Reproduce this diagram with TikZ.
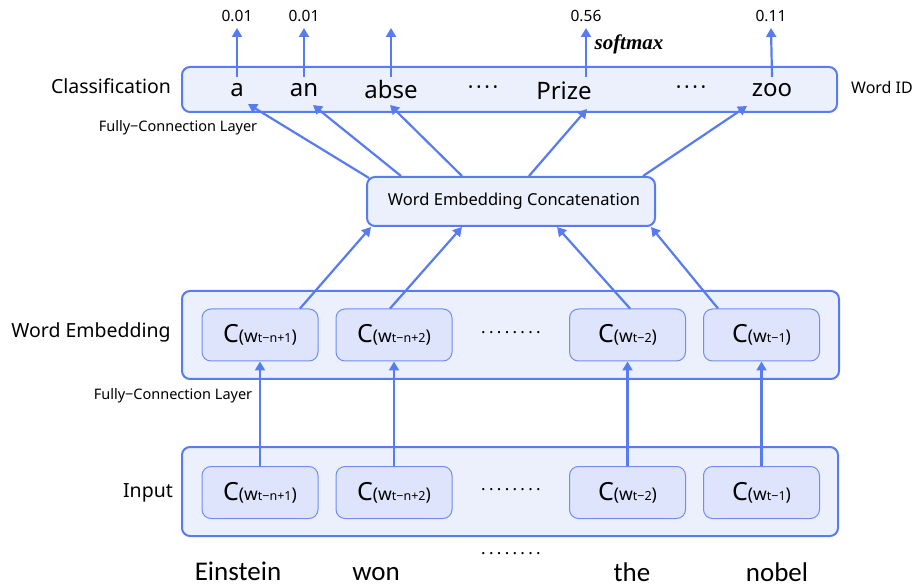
\documentclass[tikz,border=0pt]{standalone}
\usepackage{fontspec}
\setmainfont{Noto Sans}
\newfontfamily\wordfont{Carlito}
\newfontfamily\serifbi{Liberation Serif}
\usetikzlibrary{arrows.meta}

\definecolor{lineblue}{RGB}{88,124,240}
\definecolor{outerfill}{RGB}{236,240,252}
\definecolor{innerfill}{RGB}{221,228,251}
\definecolor{innerline}{RGB}{112,142,240}

\newcommand{\fs}[1]{\fontsize{#1}{#1}\selectfont}
% embedding label C(w_...)
\newcommand{\cw}[1]{{\fs{25}C}{\fs{17.5}(w}{\fs{12.5}#1}{\fs{17.5})}}
\newcommand{\dk}{\kern3.3pt}
\newcommand{\mk}{\kern2.6pt}

\tikzset{
  layer/.style={draw=lineblue, line width=2pt, fill=outerfill, rounded corners=8pt, inner sep=0pt},
  cell/.style={draw=innerline, line width=1pt, fill=innerfill, rounded corners=9pt,
    minimum width=116pt, minimum height=52pt, inner sep=0pt},
  arr/.style={draw=lineblue, line width=2.2pt, -{Triangle[length=9pt,width=10pt]}},
  word/.style={inner sep=0pt, font=\fs{24}},
  dotrow/.style={inner sep=0pt, font=\bfseries\fs{17}},
  prob/.style={inner sep=0pt, font=\fs{15.5}},
  side/.style={inner sep=0pt, font=\fs{19.5}},
  small/.style={inner sep=0pt, font=\fs{14.5}},
  token/.style={inner sep=0pt, anchor=base, font=\wordfont\fs{27}}
}

\begin{document}
\begin{tikzpicture}[x=1pt,y=-1pt]
\useasboundingbox (0,0) rectangle (914,588);

% layers
\node[layer, minimum width=655pt, minimum height=45pt] (cls) at (509.5,89.5) {};
\node[layer, minimum width=288pt, minimum height=49pt] (cat) at (511,201.5) {\fs{16.5}\hspace{6pt}Word Embedding Concatenation};
\node[layer, minimum width=657pt, minimum height=88pt] (emb) at (510.5,335) {};
\node[layer, minimum width=656pt, minimum height=89pt] (inp) at (510,491.5) {};

% side labels
\node[side] (lcls) at (111,86) {Classification};
\node[side] (lemb) at (91,332) {Word Embedding};
\node[side] (linp) at (148,493) {Input};
\node[small] (fc1) at (178,128) {Fully−Connection Layer};
\node[small] (fc2) at (173,396) {Fully−Connection Layer};
\node[inner sep=0pt, font=\fs{16}] (wid) at (882,88) {Word ID};

% vocabulary
\node[word] (wa) at (237,90) {a};
\node[word] (wn) at (304,90) {an};
\node[word] (ws) at (391,90) {abse};
\node[dotrow, font=\bfseries\fs{21}] (wd1) at (483,90) {·\mk·\mk·\mk·};
\node[word] (wp) at (564,91) {Prize};
\node[dotrow, font=\bfseries\fs{21}] (wd2) at (691,90) {·\mk·\mk·\mk·};
\node[word] (wz) at (772,90) {zoo};

% probabilities
\node[prob] (pa) at (237,16) {0.01};
\node[prob] (pn) at (304,16) {0.01};
\coordinate (ps) at (391,16);
\node[prob] (pp) at (586,16) {0.56};
\node[prob] (pz) at (771,16) {0.11};
\node[inner sep=0pt, font=\serifbi\bfseries\itshape\fs{21}] (smx) at (629,44) {softmax};

\draw[arr] ([yshift=13pt]wa.center) -- ([yshift=-12pt]pa.center);
\draw[arr] ([yshift=13pt]wn.center) -- ([yshift=-12pt]pn.center);
\draw[arr] ([yshift=13pt]ws.center) -- ([yshift=-12pt]ps);
\draw[arr] ([xshift=22pt,yshift=14pt]wp.center) -- ([yshift=-12pt]pp.center);
\draw[arr] ([yshift=13pt]wz.center) -- ([yshift=-12pt]pz.center);

% concatenation to vocabulary
\draw[arr] ([xshift=3pt,yshift=-2pt]cat.north west) -- ([xshift=11pt,yshift=-14pt]wa.center);
\draw[arr] ([xshift=35pt]cat.north west) -- ([xshift=9pt,yshift=-15pt]wn.center);
\draw[arr] ([xshift=96pt]cat.north west) -- ([xshift=-1pt,yshift=-15pt]ws.center);
\draw[arr] ([xshift=163pt]cat.north west) -- ([xshift=23pt,yshift=-18pt]wp.center);
\draw[arr] ([xshift=-13pt]cat.north east) -- ([xshift=-25pt,yshift=-16pt]wz.center);

% embedding cells
\node[cell] (e1) at (260,335) {\cw{t−n+1}};
\node[cell] (e2) at (394,335) {\cw{t−n+2}};
\node[dotrow] (ed) at (511,333) {.\dk.\dk.\dk.\dk.\dk.\dk.\dk.};
\node[cell] (e3) at (627.5,335) {\cw{t−2}};
\node[cell] (e4) at (761.5,335) {\cw{t−1}};

% input cells
\node[cell] (i1) at (260,492.5) {\cw{t−n+1}};
\node[cell] (i2) at (394,492.5) {\cw{t−n+2}};
\node[dotrow] (id) at (511,490) {.\dk.\dk.\dk.\dk.\dk.\dk.\dk.};
\node[cell] (i3) at (627.5,492.5) {\cw{t−2}};
\node[cell] (i4) at (761.5,492.5) {\cw{t−1}};

% embeddings to concatenation
\draw[arr] ([xshift=40pt]e1.north) -- ([xshift=5pt]cat.south west);
\draw[arr] ([xshift=-4pt]e2.north) -- ([xshift=96pt]cat.south west);
\draw[arr] ([xshift=2.5pt]e3.north) -- ([xshift=191pt]cat.south west);
\draw[arr] ([xshift=-43.5pt]e4.north) -- ([xshift=-5pt]cat.south east);

% inputs to embeddings
\draw[arr] (i1) -- (e1);
\draw[arr] (i2) -- (e2);
\draw[arr] (i3) -- (e3);
\draw[arr] (i4) -- (e4);

% input tokens
\node[token] (t1) at (238,580) {Einstein};
\node[token] (t2) at (376,580) {won};
\node[dotrow] (td) at (511,554) {.\dk.\dk.\dk.\dk.\dk.\dk.\dk.};
\node[token] (t3) at (632,581) {the};
\node[token] (t4) at (777,581) {nobel};
\end{tikzpicture}
\end{document}
